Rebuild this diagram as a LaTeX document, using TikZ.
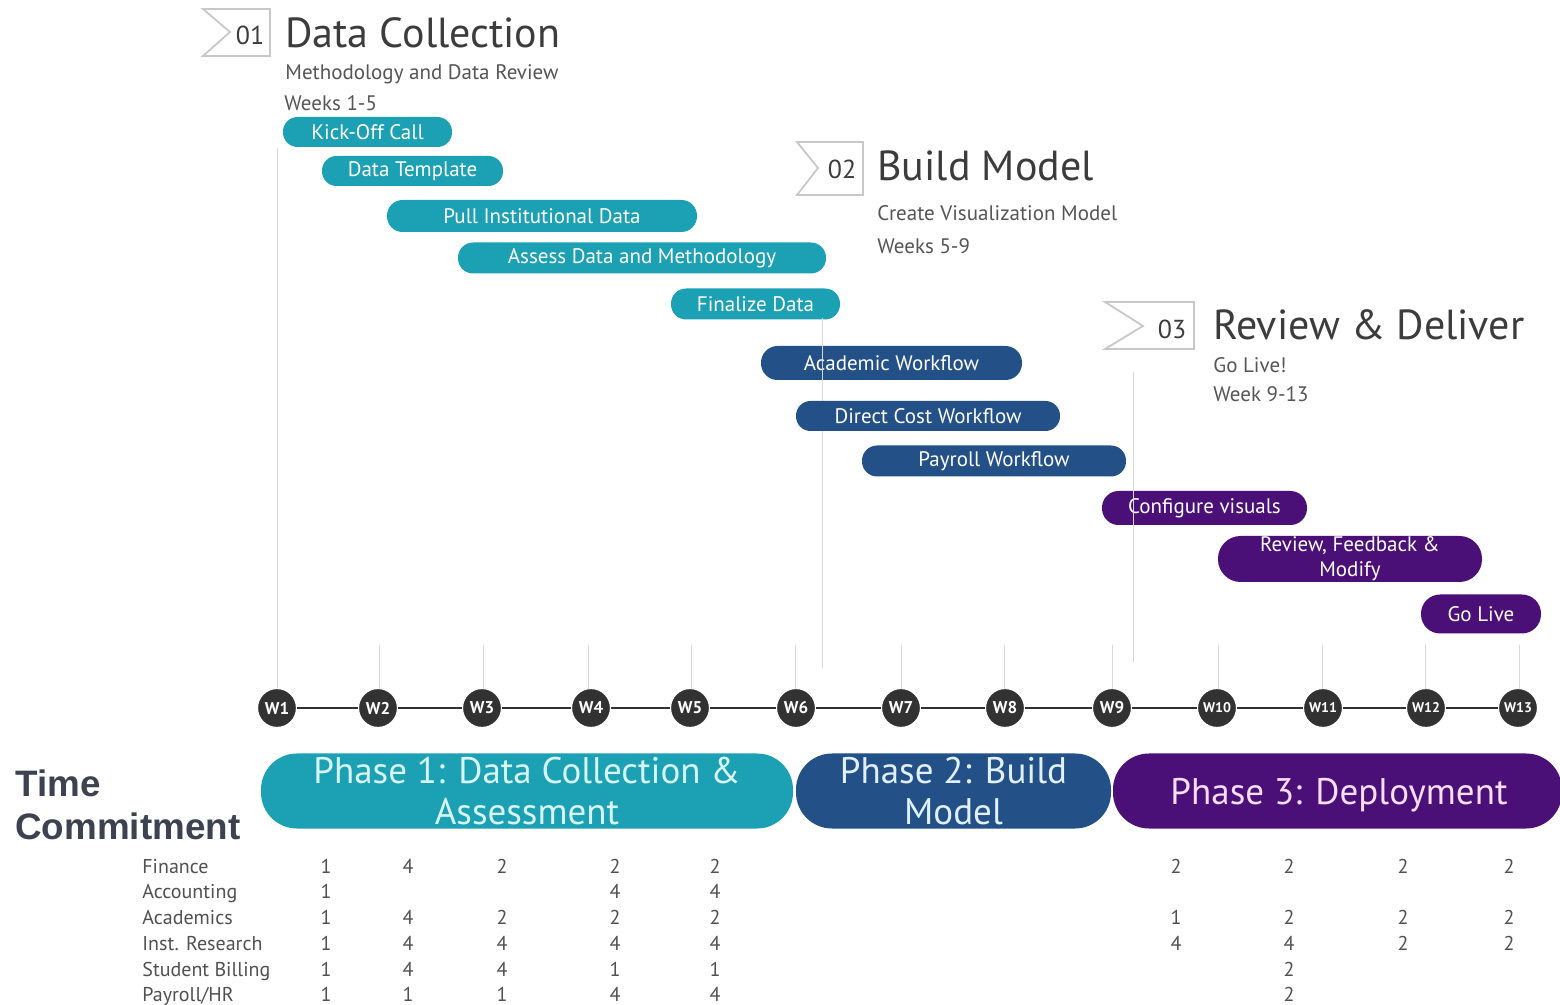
\documentclass[tikz,border=0pt]{standalone}
\usepackage{fontspec}
\setmainfont{PT Sans}
\newfontfamily\arialfont{Liberation Sans}
\definecolor{tealc}{RGB}{28,160,180}
\definecolor{bluec}{RGB}{35,80,135}
\definecolor{purpc}{RGB}{75,15,120}
\definecolor{wkc}{RGB}{50,50,50}
\definecolor{titlec}{RGB}{60,60,60}
\definecolor{subc}{RGB}{85,85,85}
\definecolor{boxc}{RGB}{200,200,200}
\definecolor{tickc}{RGB}{215,215,215}
\definecolor{tabc}{RGB}{80,80,80}
\definecolor{tcc}{RGB}{60,66,80}
\definecolor{p1t}{RGB}{215,245,245}
\definecolor{p2t}{RGB}{225,240,252}
\definecolor{p3t}{RGB}{246,222,246}
\newcommand\gbar[7]{\node[gbarsty,#6,minimum width={(#3-#2)*0.5pt},minimum height={#5*0.5pt},rounded corners={#5*0.25pt-0.2pt}] (#1) at ({(#2+#3)/2},#4) {#7};}
\begin{document}
\begin{tikzpicture}[x=0.5pt,y=-0.5pt,
  gbarsty/.style={rectangle, inner sep=0pt, text=white, align=center, font=\fontsize{10.5}{12.5}\selectfont},
  phasesty/.style={rectangle, inner sep=0pt, align=center, font=\fontsize{18.5}{20.5}\selectfont},
  wk/.style={circle, fill=wkc, draw=white, line width=0.6pt, minimum size=19.5pt, inner sep=0pt, text=white, font=\bfseries\fontsize{8.5}{8.5}\selectfont},
  wks/.style={wk, font=\bfseries\fontsize{7}{7}\selectfont},
  hdrbox/.style={draw=boxc, line width=0.9pt},
  hnum/.style={inner sep=0pt, text=titlec, font=\fontsize{13}{14}\selectfont},
  titlesty/.style={anchor=base west, inner sep=0pt, text=titlec, font=\fontsize{21}{24}\selectfont},
  substy/.style={anchor=base west, inner sep=0pt, text=subc, font=\fontsize{10.5}{12}\selectfont},
  tick/.style={draw=tickc, line width=0.5pt},
  wline/.style={draw=wkc, line width=1pt},
  lab/.style={anchor=mid west, inner sep=0pt, text=tabc, font=\fontsize{10}{12}\selectfont},
  num/.style={anchor=mid, inner sep=0pt, text=tabc, font=\fontsize{10}{12}\selectfont}]
\useasboundingbox[fill=white] (0,0) rectangle (1560,1005);

% ---------- headers ----------
\draw[hdrbox] (203,9) -- (270,9) -- (270,56) -- (203,56) -- (230,32) -- cycle;
\node[hnum] (n01) at (250,35) {01};
\node[titlesty] (t01) at (285,48) {Data Collection};
\node[substy] (s01a) at (285,80) {Methodology and Data Review};
\node[substy] (s01b) at (284,111) {Weeks 1-5};

\draw[hdrbox] (797,142) -- (863,142) -- (863,195) -- (797,195) -- (818,168) -- cycle;
\node[hnum] (n02) at (842,169) {02};
\node[titlesty] (t02) at (877,181) {Build Model};
\node[substy] (s02a) at (877,221) {Create Visualization Model};
\node[substy] (s02b) at (877,254) {Weeks 5-9};

\draw[hdrbox] (1105,302) -- (1194,302) -- (1194,349) -- (1105,349) -- (1143,326) -- cycle;
\node[hnum] (n03) at (1172,329) {03};
\node[titlesty] (t03) at (1213,340) {Review \& Deliver};
\node[substy] (s03a) at (1213,373) {Go Live!};
\node[substy] (s03b) at (1213,402) {Week 9-13};

% ---------- week circles ----------
\node[wk] (w1) at (277,708) {W1};
\node[wk] (w2) at (378,708) {W2};
\node[wk] (w3) at (482,708) {W3};
\node[wk] (w4) at (591,708) {W4};
\node[wk] (w5) at (690,708) {W5};
\node[wk] (w6) at (796,708) {W6};
\node[wk] (w7) at (901,708) {W7};
\node[wk] (w8) at (1005,708) {W8};
\node[wk] (w9) at (1112,708) {W9};
\node[wks] (w10) at (1217,708) {W10};
\node[wks] (w11) at (1323,708) {W11};
\node[wks] (w12) at (1426,708) {W12};
\node[wks] (w13) at (1518,708) {W13};
\draw[wline] (w1) -- (w2) -- (w3) -- (w4) -- (w5) -- (w6) -- (w7) -- (w8) -- (w9) -- (w10) -- (w11) -- (w12) -- (w13);

% ---------- vertical guide lines ----------
\coordinate (c1) at (277,148);
\draw[tick] (c1) -- (w1);
\foreach \n/\x in {2/379,3/483,4/588,5/691,6/795,7/901,8/1004,9/1112,10/1218,11/1322,12/1425,13/1519}{
  \coordinate (c\n) at (\x,645);
  \draw[tick] (c\n) -- (\x,689);
}
\coordinate (m1a) at (822,318);
\coordinate (m1b) at (822,668);
\draw[tick] (m1a) -- (m1b);
\coordinate (m2a) at (1133,372);
\coordinate (m2b) at (1133,662);
\draw[tick] (m2a) -- (m2b);

% ---------- task bars ----------
\gbar{kick}{283}{452}{132}{30}{fill=tealc}{Kick-Off Call}
\gbar{tmpl}{322}{503}{171}{30}{fill=tealc}{Data Template}
\gbar{pull}{387}{697}{216}{32}{fill=tealc}{Pull Institutional Data}
\gbar{asse}{458}{826}{258}{31}{fill=tealc}{Assess Data and Methodology}
\gbar{fina}{671}{840}{304}{31}{fill=tealc}{Finalize Data}
\gbar{acad}{761}{1022}{363}{34}{fill=bluec}{Academic Workflow}
\gbar{dirc}{796}{1060}{416}{30}{fill=bluec}{Direct Cost Workflow}
\gbar{payr}{862}{1126}{461}{31}{fill=bluec}{Payroll Workflow}
\gbar{conf}{1102}{1307}{508}{34}{fill=purpc}{Configure visuals}
\gbar{revw}{1218}{1482}{559}{46}{fill=purpc}{Review, Feedback \&\\Modify}
\gbar{golv}{1421}{1541}{614}{39}{fill=purpc}{Go Live}
\draw[tick] (m1a) -- (822,380);
\draw[tick] (1133,490) -- (1133,526);

% ---------- phase bars ----------
\node[phasesty, fill=tealc, text=p1t, minimum width=266pt, minimum height=37.5pt, rounded corners=18pt] (ph1) at (527,791) {Phase 1: Data Collection \&\\Assessment};
\node[phasesty, fill=bluec, text=p2t, minimum width=157.5pt, minimum height=37.5pt, rounded corners=18pt] (ph2) at (953.5,791) {Phase 2: Build\\Model};
\node[phasesty, fill=purpc, text=p3t, minimum width=224.5pt, minimum height=37.5pt, rounded corners=18pt] (ph3) at (1337.5,791) {};
\node[phasesty, text=p3t] (ph3t) at (1339,795) {Phase 3: Deployment};

% ---------- time commitment ----------
\node[anchor=base west, inner sep=0pt, text=tcc, font=\arialfont\bfseries\fontsize{18.4}{20}\selectfont] (tc1) at (15,797) {Time};
\node[anchor=base west, inner sep=0pt, text=tcc, font=\arialfont\bfseries\fontsize{18.4}{20}\selectfont] (tc2) at (15,840) {Commitment};

\node[lab] (r1) at (142,868) {Finance};
\node[lab] (r2) at (142,893) {Accounting};
\node[lab] (r3) at (142,919) {Academics};
\node[lab] (r4) at (142,945) {Inst. Research};
\node[lab] (r5) at (142,971) {Student Billing};
\node[lab] (r6) at (142,996) {Payroll/HR};

\foreach \x/\v in {326/1,408/4,502/2,615/2,715/2,1176/2,1289/2,1403/2,1509/2} \node[num] at (\x,868) {\v};
\foreach \x/\v in {326/1,615/4,715/4} \node[num] at (\x,893) {\v};
\foreach \x/\v in {326/1,408/4,502/2,615/2,715/2,1176/1,1289/2,1403/2,1509/2} \node[num] at (\x,919) {\v};
\foreach \x/\v in {326/1,408/4,502/4,615/4,715/4,1176/4,1289/4,1403/2,1509/2} \node[num] at (\x,945) {\v};
\foreach \x/\v in {326/1,408/4,502/4,615/1,715/1,1289/2} \node[num] at (\x,971) {\v};
\foreach \x/\v in {326/1,408/1,502/1,615/4,715/4,1289/2} \node[num] at (\x,996) {\v};
\end{tikzpicture}
\end{document}
